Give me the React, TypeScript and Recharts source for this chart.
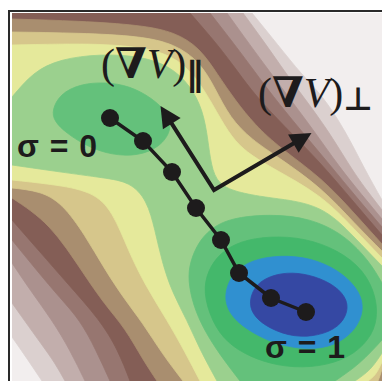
import React from 'react';
import { ScatterChart, Scatter, XAxis, YAxis } from 'recharts';

type P = [number, number];

// Colour of each contour level, lowest (0) to highest (13)
const LEVEL_COLORS = [
  '#3548a3', '#3090d0', '#44b86b', '#64c17b', '#9bd08e', '#e5e99b', '#d6c68b',
  '#a98e6f', '#845e56', '#977670', '#ab918e', '#c2aeac', '#dbd0cf', '#f2eeee',
];
const INK = '#1d1b1c';
const FRAME = '#2a2a2a';

const X_DOMAIN: [number, number] = [0, 3.7];
const Y_DOMAIN: [number, number] = [0, 3.68];

// Upper-right contour lines (boundary between level k and k+1)
const UR_12: P[] = [[2.40, 3.68], [2.66, 3.36], [2.90, 3.06], [3.10, 2.86], [3.33, 2.51], [3.53, 2.11], [3.70, 1.81]];
const UR_11: P[] = [[2.31, 3.68], [2.53, 3.38], [2.73, 3.09], [2.90, 2.86], [3.16, 2.51], [3.40, 2.11], [3.56, 1.89], [3.70, 1.71]];
const UR_10: P[] = [[2.15, 3.68], [2.38, 3.36], [2.58, 3.09], [2.75, 2.86], [3.00, 2.53], [3.28, 2.13], [3.50, 1.86], [3.70, 1.62]];
const UR_9: P[] = [[1.98, 3.68], [2.23, 3.36], [2.43, 3.09], [2.60, 2.86], [2.86, 2.54], [3.18, 2.16], [3.45, 1.83], [3.70, 1.54]];
const UR_8: P[] = [[1.78, 3.68], [2.06, 3.36], [2.26, 3.09], [2.43, 2.86], [2.71, 2.56], [3.08, 2.19], [3.40, 1.81], [3.70, 1.46]];
const UR_7: P[] = [[0, 3.62], [0.68, 3.60], [1.28, 3.56], [1.63, 3.49], [1.88, 3.33], [2.06, 3.06], [2.23, 2.81], [2.43, 2.56], [2.68, 2.33], [3.10, 2.03], [3.43, 1.67], [3.70, 1.37]];
const UR_6: P[] = [[0, 3.49], [0.68, 3.48], [1.28, 3.45], [1.63, 3.37], [1.88, 3.19], [2.03, 2.93], [2.18, 2.63], [2.40, 2.41], [2.66, 2.24], [3.10, 1.93], [3.43, 1.57], [3.70, 1.30]];
const UR_5: P[] = [[0, 3.36], [0.48, 3.37], [0.88, 3.37], [1.28, 3.34], [1.60, 3.26], [1.83, 3.06], [2.01, 2.76], [2.16, 2.49], [2.31, 2.31], [2.58, 2.14], [3.10, 1.86], [3.43, 1.51], [3.70, 1.23]];
const UR_4: P[] = [[0, 2.84], [0.21, 3.09], [0.48, 3.22], [0.88, 3.27], [1.28, 3.25], [1.58, 3.15], [1.78, 2.96], [1.91, 2.71], [1.96, 2.41], [1.99, 2.16], [2.06, 1.96], [2.28, 1.88], [2.58, 1.83], [3.10, 1.77], [3.43, 1.43], [3.70, 1.15]];

// Lower-left contour lines (left edge -> bottom edge)
const BL_12: P[] = [[0, 0.44], [0.16, 0.21], [0.30, 0.00]];
const BL_11: P[] = [[0, 0.78], [0.12, 0.61], [0.30, 0.36], [0.43, 0.18], [0.53, 0.00]];
const BL_10: P[] = [[0, 1.18], [0.18, 0.91], [0.40, 0.61], [0.58, 0.31], [0.73, 0.00]];
const BL_9: P[] = [[0, 1.41], [0.26, 1.09], [0.48, 0.83], [0.68, 0.61], [0.84, 0.31], [0.98, 0.00]];
const BL_8: P[] = [[0, 1.61], [0.28, 1.29], [0.55, 0.98], [0.88, 0.61], [1.06, 0.31], [1.18, 0.00]];
const BL_7: P[] = [[0, 1.83], [0.38, 1.58], [0.71, 1.08], [0.93, 0.76], [1.13, 0.53], [1.31, 0.21], [1.45, 0.00]];
const BL_6: P[] = [[0, 1.93], [0.28, 1.90], [0.50, 1.78], [0.73, 1.46], [0.93, 1.11], [1.13, 0.81], [1.30, 0.59], [1.51, 0.26], [1.71, 0.00]];
const BL_5: P[] = [[0, 2.01], [0.38, 1.97], [0.81, 1.90], [1.01, 1.69], [1.16, 1.31], [1.33, 0.96], [1.55, 0.61], [1.73, 0.29], [1.88, 0.00]];
const BL_4: P[] = [[0, 2.16], [0.48, 2.09], [0.93, 2.03], [1.18, 1.99], [1.35, 1.81], [1.43, 1.51], [1.50, 1.19], [1.60, 0.89], [1.75, 0.61], [1.88, 0.31], [2.05, 0.00]];

// Lower-right corner contour lines (right edge -> bottom edge)
const BR_6: P[] = [[3.70, 0.12], [3.68, 0.05], [3.66, 0.00]];
const BR_5: P[] = [[3.70, 0.19], [3.64, 0.06], [3.56, 0.00]];
const BR_4: P[] = [[3.70, 0.28], [3.59, 0.11], [3.43, 0.00]];
const BR_3: P[] = [[3.70, 0.41], [3.48, 0.17], [3.23, 0.00]];

// Deep basin (sigma = 1) contours
const LR_3: P[] = [[2.28, 0.00], [2.08, 0.26], [1.92, 0.51], [1.81, 0.76], [1.76, 1.01], [1.78, 1.19], [1.86, 1.38], [1.98, 1.52], [2.18, 1.63], [2.58, 1.67], [2.98, 1.63], [3.33, 1.46], [3.58, 1.19], [3.70, 0.98]];
const LOOP_2: P[] = [[1.91, 0.89], [1.96, 1.11], [2.08, 1.28], [2.28, 1.40], [2.58, 1.45], [2.93, 1.43], [3.26, 1.31], [3.52, 1.11], [3.65, 0.83], [3.65, 0.56], [3.53, 0.36], [3.31, 0.20], [2.98, 0.13], [2.66, 0.15], [2.38, 0.24], [2.15, 0.38], [2.00, 0.59]];
const LOOP_1: P[] = [[2.12, 0.81], [2.16, 0.99], [2.26, 1.13], [2.46, 1.23], [2.76, 1.26], [3.06, 1.21], [3.32, 1.07], [3.48, 0.89], [3.52, 0.71], [3.44, 0.51], [3.23, 0.35], [2.96, 0.31], [2.66, 0.36], [2.40, 0.48], [2.20, 0.63]];
const LOOP_0: P[] = [[2.37, 0.81], [2.44, 0.97], [2.60, 1.06], [2.80, 1.09], [3.03, 1.05], [3.24, 0.95], [3.36, 0.81], [3.35, 0.65], [3.23, 0.51], [3.00, 0.44], [2.76, 0.45], [2.53, 0.55], [2.40, 0.67]];

// Shallow basin (sigma = 0) contour
const LOOP_3_UPPER: P[] = [[0.40, 2.71], [0.48, 2.87], [0.68, 2.97], [0.93, 2.99], [1.18, 2.95], [1.40, 2.83], [1.56, 2.68], [1.60, 2.51], [1.48, 2.34], [1.26, 2.25], [1.00, 2.26], [0.76, 2.34], [0.54, 2.48], [0.42, 2.60]];

// String of images
const PATH_X = [0.98, 1.31, 1.60, 1.84, 2.09, 2.27, 2.59, 2.94];
const PATH_Y = [2.63, 2.40, 2.09, 1.73, 1.41, 1.08, 0.83, 0.69];

// Gradient arrows: parallel tip, origin, perpendicular tip
const ARROW_X = [1.485, 2.02, 2.995];
const ARROW_Y = [2.75, 1.91, 2.48];

// Label anchors (data coordinates)
const LABEL_PAR: P = [0.89, 3.03];
const LABEL_PERP: P = [2.46, 2.74];
const LABEL_S0: P = [0.05, 2.24];
const LABEL_S1: P = [2.53, 0.23];

// points far outside the plot used to close the filled areas
const OUT_TL: P = [-1.2, 4.9];
const OUT_BR: P = [4.9, -1.2];
const OUT_R: P = [4.4, 0.75];
const OUT_B: P = [2.8, -0.6];
const OUT_L: P = [-0.7, 2.6];

const ext = (c: P[]): P[] => {
  const n = c.length;
  const s: P = [2 * c[0][0] - c[1][0], 2 * c[0][1] - c[1][1]];
  const e: P = [2 * c[n - 1][0] - c[n - 2][0], 2 * c[n - 1][1] - c[n - 2][1]];
  return [s, ...c, e];
};
const rev = (c: P[]): P[] => [...c].reverse();

type Region = { level: number; pts: P[]; kind: 'basisClosed' | 'linearClosed' };

const REGIONS: Region[] = [
  { level: 13, pts: [[-1, -1], [5, -1], [5, 5], [-1, 5]], kind: 'linearClosed' },
  { level: 12, pts: [...ext(UR_12), OUT_BR, ...ext(rev(BL_12)), OUT_TL], kind: 'basisClosed' },
  { level: 11, pts: [...ext(UR_11), OUT_BR, ...ext(rev(BL_11)), OUT_TL], kind: 'basisClosed' },
  { level: 10, pts: [...ext(UR_10), OUT_BR, ...ext(rev(BL_10)), OUT_TL], kind: 'basisClosed' },
  { level: 9, pts: [...ext(UR_9), OUT_BR, ...ext(rev(BL_9)), OUT_TL], kind: 'basisClosed' },
  { level: 8, pts: [...ext(UR_8), OUT_BR, ...ext(rev(BL_8)), OUT_TL], kind: 'basisClosed' },
  { level: 7, pts: [...ext(UR_7), OUT_BR, ...ext(rev(BL_7)), OUT_L], kind: 'basisClosed' },
  { level: 6, pts: [...ext(UR_6), OUT_R, ...ext(BR_6), OUT_B, ...ext(rev(BL_6)), OUT_L], kind: 'basisClosed' },
  { level: 5, pts: [...ext(UR_5), OUT_R, ...ext(BR_5), OUT_B, ...ext(rev(BL_5)), OUT_L], kind: 'basisClosed' },
  { level: 4, pts: [...ext(UR_4), OUT_R, ...ext(BR_4), OUT_B, ...ext(rev(BL_4)), OUT_L], kind: 'basisClosed' },
  { level: 3, pts: [...ext(LR_3), OUT_R, ...ext(BR_3), OUT_B], kind: 'basisClosed' },
  { level: 3, pts: LOOP_3_UPPER, kind: 'basisClosed' },
  { level: 2, pts: LOOP_2, kind: 'basisClosed' },
  { level: 1, pts: LOOP_1, kind: 'basisClosed' },
  { level: 0, pts: LOOP_0, kind: 'basisClosed' },
];

const toData = (pts: P[]) => pts.map(([x, y]) => ({ x, y }));
const PATH_DATA = PATH_X.map((x, i) => ({ x, y: PATH_Y[i] }));
const ARROW_DATA = ARROW_X.map((x, i) => ({ x, y: ARROW_Y[i] }));

const SERIF = "'Liberation Serif', 'DejaVu Serif', 'Times New Roman', serif";
const SANS = "'Liberation Sans', Arial, 'DejaVu Sans', sans-serif";
const SYM = "'DejaVu Sans', sans-serif";

const Hidden = () => <g />;
const Bead = (p: any) => <circle cx={p.cx} cy={p.cy} r={9} fill={INK} />;

const ArrowPair = (props: any) => {
  const pts = props.points as { x: number; y: number }[];
  if (!pts || pts.length < 3) return <g />;
  const [a, o, b] = pts;
  const headLen = 21;
  const headW = 10.5;
  const head = (tip: { x: number; y: number }) => {
    const dx = tip.x - o.x;
    const dy = tip.y - o.y;
    const L = Math.hypot(dx, dy);
    const ux = dx / L;
    const uy = dy / L;
    const bx = tip.x - ux * headLen;
    const by = tip.y - uy * headLen;
    return {
      base: { x: bx + ux * 3, y: by + uy * 3 },
      poly: `${tip.x},${tip.y} ${bx - uy * headW},${by + ux * headW} ${bx + uy * headW},${by - ux * headW}`,
    };
  };
  const h1 = head(a);
  const h2 = head(b);
  return (
    <g>
      <polyline
        points={`${h1.base.x},${h1.base.y} ${o.x},${o.y} ${h2.base.x},${h2.base.y}`}
        fill="none"
        stroke={INK}
        strokeWidth={4}
        strokeLinejoin="miter"
      />
      <polygon points={h1.poly} fill={INK} />
      <polygon points={h2.poly} fill={INK} />
    </g>
  );
};

const ParLabel = (p: any) => (
  <text x={p.cx} y={p.cy} fontFamily={SERIF} fontSize={42} fill={INK}>
    <tspan>(</tspan>
    <tspan fontWeight="bold">∇</tspan>
    <tspan fontStyle="italic">V</tspan>
    <tspan>)</tspan>
    <tspan fontSize={34} dy={8} fontWeight="bold" fontFamily={SYM}>∥</tspan>
  </text>
);
const PerpLabel = (p: any) => (
  <text x={p.cx} y={p.cy} fontFamily={SERIF} fontSize={42} fill={INK}>
    <tspan>(</tspan>
    <tspan fontWeight="bold">∇</tspan>
    <tspan fontStyle="italic">V</tspan>
    <tspan>)</tspan>
    <tspan fontSize={32} dy={3} fontWeight="bold" fontFamily={SYM}>⊥</tspan>
  </text>
);
const Sigma0 = (p: any) => (
  <text x={p.cx} y={p.cy} fontFamily={SANS} fontWeight="bold" fontSize={32} wordSpacing={2} fill={INK}>σ = 0</text>
);
const Sigma1 = (p: any) => (
  <text x={p.cx} y={p.cy} fontFamily={SANS} fontWeight="bold" fontSize={32} wordSpacing={2} fill={INK}>σ = 1</text>
);

export default function App() {
  return (
    <div style={{ position: 'fixed', left: 0, top: 0, width: 382, height: 381, overflow: 'hidden', background: '#ffffff' }}>
      <div
        style={{
          position: 'absolute', left: 8, top: 10, width: 400, height: 400,
          borderLeft: `2px solid ${FRAME}`, borderTop: `2px solid ${FRAME}`, boxSizing: 'border-box',
        }}
      />
      <div style={{ position: 'absolute', left: 12, top: 13 }}>
        <ScatterChart width={370} height={368} margin={{ top: 0, right: 0, bottom: 0, left: 0 }}>
          <XAxis type="number" dataKey="x" domain={X_DOMAIN} hide allowDataOverflow />
          <YAxis type="number" dataKey="y" domain={Y_DOMAIN} hide allowDataOverflow />
          {REGIONS.map((r, i) => (
            <Scatter
              key={`r${i}`}
              data={toData(r.pts)}
              fill={LEVEL_COLORS[r.level]}
              line={{ fill: LEVEL_COLORS[r.level], stroke: LEVEL_COLORS[r.level], strokeWidth: 0.8 }}
              lineJointType={r.kind}
              shape={Hidden}
              isAnimationActive={false}
            />
          ))}
          <Scatter data={ARROW_DATA} fill={INK} line={ArrowPair} shape={Hidden} isAnimationActive={false} />
          <Scatter
            data={PATH_DATA}
            fill={INK}
            line={{ stroke: INK, strokeWidth: 3.5 }}
            shape={Bead}
            isAnimationActive={false}
          />
          <Scatter data={[{ x: LABEL_PAR[0], y: LABEL_PAR[1] }]} shape={ParLabel} isAnimationActive={false} />
          <Scatter data={[{ x: LABEL_PERP[0], y: LABEL_PERP[1] }]} shape={PerpLabel} isAnimationActive={false} />
          <Scatter data={[{ x: LABEL_S0[0], y: LABEL_S0[1] }]} shape={Sigma0} isAnimationActive={false} />
          <Scatter data={[{ x: LABEL_S1[0], y: LABEL_S1[1] }]} shape={Sigma1} isAnimationActive={false} />
        </ScatterChart>
      </div>
    </div>
  );
}
